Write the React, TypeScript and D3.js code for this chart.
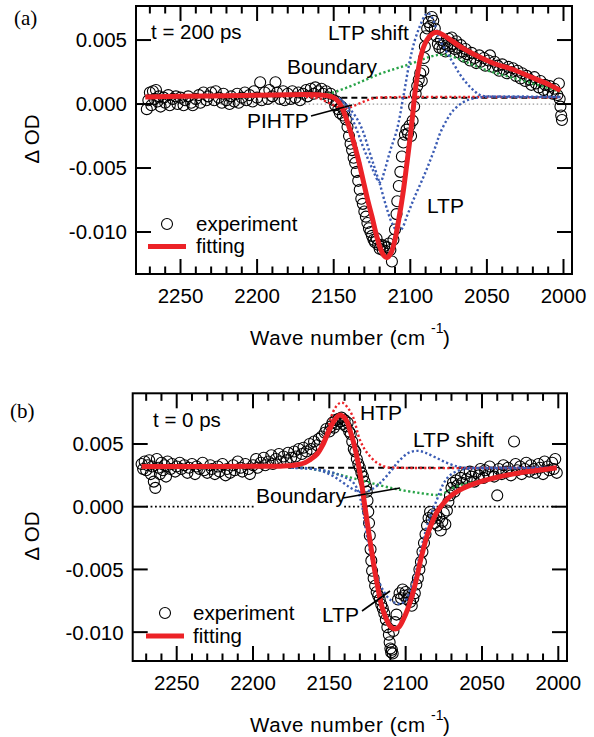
import React from "react";
import * as d3 from "d3";

type P = [number, number];

// ---------- tick values ----------
const xMajor = [2250, 2200, 2150, 2100, 2050, 2000];
const xMinor = [2270, 2260, 2240, 2230, 2220, 2210, 2190, 2180, 2170, 2160, 2140, 2130, 2120, 2110, 2090, 2080, 2070, 2060, 2040, 2030, 2020, 2010];
const yTicks = [5, 0, -5, -10]; // mOD
const yTickLabels = ["0.005", "0.000", "-0.005", "-0.010"];

// ---------- panel (a): t = 200 ps, values in mOD ----------
const expA: P[] = [
  [2272, -0.4], [2271, 0.3], [2270, 0.9], [2269, -0.1], [2268, 1.0], [2267, 0.4], [2266, 1.1], [2265, 0.2], [2264, 0.6], [2263, -0.2],
  [2261, 0.5], [2260, 0.1], [2258, 0.7], [2257, -0.1], [2255, 0.4], [2253, 0.6], [2252, 0.0], [2250, 0.5], [2248, -0.1], [2247, 0.3],
  [2245, 0.6], [2243, 0.1], [2242, -0.1], [2240, 0.4], [2238, 0.7], [2237, 0.1], [2235, 0.9], [2233, 0.3], [2232, 0.6], [2230, 0.9],
  [2228, 0.3], [2227, 1.0], [2225, 0.5], [2223, 0.1], [2222, 0.8], [2220, 0.3], [2218, 0.0], [2217, 0.6], [2215, 0.2], [2213, 0.8],
  [2212, 0.1], [2210, 0.5], [2208, 0.9], [2207, 0.3], [2205, 0.7], [2203, 0.2], [2202, 1.0], [2200, 0.5], [2198, 1.7], [2197, 0.3],
  [2195, 0.9], [2193, 0.4], [2192, 1.1], [2190, 0.6], [2188, 1.7], [2187, 0.9], [2185, 0.4], [2183, 1.0], [2182, 0.3], [2180, 0.8],
  [2178, 0.4], [2177, 1.0], [2175, 0.5], [2173, 0.9], [2172, 0.3], [2170, 0.8], [2168, 1.1], [2167, 0.6], [2165, 1.2], [2163, 0.8],
  [2162, 1.3], [2160, 1.0], [2158, 1.2], [2157, 0.8], [2155, 1.0], [2153, 0.5], [2152, 0.8], [2150, 0.3], [2149, -0.1], [2148, 0.2],
  [2147, -0.4], [2146, -0.7], [2145, -0.2], [2144, -0.9], [2143, -0.5], [2142, -1.2], [2141, -1.8], [2140, -2.5], [2139, -3.1], [2138, -3.6],
  [2137, -4.2], [2136, -4.6], [2135, -5.3], [2134, -6.0], [2133, -6.7], [2132, -7.4], [2131, -7.8], [2130, -8.4], [2129, -8.8], [2128, -9.3],
  [2127, -9.7], [2126, -10.0], [2125, -10.3], [2124, -10.6], [2123, -10.8], [2122, -10.5], [2121, -11.0], [2120, -11.3], [2119, -11.0], [2118, -11.4],
  [2117, -11.1], [2116, -11.5], [2115, -11.2], [2114, -10.9], [2113, -11.4], [2112, -12.3], [2111, -10.6], [2110, -9.8], [2109, -8.6], [2108.5, -7.6],
  [2107.5, -6.4], [2106.5, -5.3], [2105.5, -4.1], [2104.5, -3.0], [2103.5, -2.4], [2102.5, -2.0], [2101.5, -2.3], [2100.5, -1.7], [2099.5, -2.5], [2098.5, -1.3],
  [2097.5, -0.2], [2096.5, 0.8], [2095.5, 1.4], [2094.5, 1.9], [2093.5, 2.4], [2092.5, 1.8], [2091.5, 2.6], [2091, 3.6], [2090.5, 4.5], [2090, 5.3],
  [2089, 5.9], [2088, 6.4], [2087, 6.1], [2086, 6.8], [2085, 6.5], [2084, 5.9], [2083, 5.3], [2082, 4.7], [2081, 4.4], [2080, 5.0],
  [2079, 4.3], [2078, 4.7], [2077, 4.1], [2076, 4.6], [2075, 5.1], [2074, 4.5], [2073, 5.2], [2072, 4.7], [2071, 4.3], [2070, 4.9],
  [2069, 4.4], [2068, 4.0], [2067, 4.6], [2066, 4.1], [2065, 3.7], [2064, 4.3], [2063, 3.9], [2061, 3.4], [2060, 4.0], [2058, 3.6],
  [2057, 3.2], [2055, 3.8], [2054, 3.3], [2052, 3.6], [2051, 3.0], [2049, 3.4], [2048, 3.8], [2046, 2.9], [2045, 3.3], [2043, 3.0],
  [2042, 2.6], [2040, 3.1], [2039, 2.7], [2037, 2.4], [2036, 2.9], [2034, 2.5], [2033, 2.8], [2031, 2.2], [2030, 2.6], [2028, 2.0],
  [2027, 2.4], [2025, 1.8], [2024, 2.2], [2022, 1.9], [2021, 1.5], [2019, 2.1], [2018, 1.6], [2016, 1.3], [2015, 1.8], [2013, 1.1],
  [2012, 1.5], [2010, 1.0], [2009, 1.4], [2007, 0.8], [2006, 1.2], [2004, 0.7], [2003, 1.6], [2002.5, 0.4], [2002, -0.2], [2001.5, -0.9],
  [2001, -1.25],
];
const fitA: P[] = [
  [2273, 0.55], [2250, 0.6], [2220, 0.65], [2190, 0.7], [2170, 0.75], [2160, 0.72], [2154, 0.65], [2150, 0.5], [2147, 0.2], [2144, -0.45],
  [2140.5, -1.6], [2137.4, -2.8], [2134, -4.3], [2130.9, -5.9], [2128, -7.4], [2125, -8.8], [2122, -10.3], [2119.8, -11.2], [2117.5, -11.8], [2115.2, -12.0],
  [2112.5, -11.6], [2110, -10.6], [2107.5, -9.0], [2104.8, -7.0], [2102.5, -4.9], [2100.3, -2.8], [2098.5, -0.9], [2097, 0.86], [2095.3, 2.3], [2093.7, 3.4],
  [2091.5, 4.4], [2089.2, 5.0], [2086, 5.45], [2082.6, 5.6], [2078, 5.35], [2073, 4.95], [2067.6, 4.5], [2061, 4.05], [2054.5, 3.65], [2045, 3.15],
  [2033, 2.7], [2022, 2.15], [2011, 1.6], [2002, 1.05],
];
const ltpA: P[] = [
  [2150, 0.55], [2145, 0.3], [2140, -0.3], [2135, -1.1], [2131, -2.1], [2127, -3.6], [2123, -5.1], [2120, -6.2], [2116, -7.9], [2112, -9.3],
  [2109, -9.85], [2106, -9.8], [2102, -8.7], [2098, -7.5], [2094, -6.4], [2090, -5.3], [2087, -4.4], [2083.5, -3.3], [2080.6, -2.3], [2076, -1.2],
  [2072, -0.5], [2066, 0.1], [2060, 0.4], [2052, 0.55], [2002, 0.55],
];
const ltpShiftA: P[] = [
  [2155, 0.55], [2150, 0.5], [2145, 0.3], [2140, -0.6], [2135, -2.0], [2130, -3.6], [2125, -5.0], [2121, -6.0], [2119.5, -6.1], [2117, -5.3],
  [2113, -3.6], [2108.7, -2.0], [2104.5, 0.6], [2100.3, 3.4], [2097, 5.0], [2093.7, 6.1], [2090.5, 6.9], [2088.5, 7.1], [2086, 6.8], [2080.6, 5.0],
  [2076, 4.0], [2072, 3.2], [2067.5, 2.3], [2063, 1.6], [2058, 1.0], [2054.5, 0.7], [2045, 0.58], [2002, 0.55],
];
const boundaryA: P[] = [
  [2160, 0.7], [2152, 0.85], [2140, 1.35], [2130, 1.85], [2120, 2.35], [2110, 2.75], [2102, 3.05], [2094, 3.4], [2087, 3.7], [2081, 3.85],
  [2076, 3.8], [2070, 3.6], [2063, 3.25], [2055, 2.85], [2045, 2.45], [2033, 2.05], [2020, 1.6], [2010, 1.25], [2002, 0.95],
];
const pihtpA: P[] = [
  [2168, 0.55], [2160, 0.45], [2155, 0.2], [2150, -0.1], [2146, -0.3], [2141, -0.3], [2136, -0.1], [2130, 0.2], [2124, 0.45], [2118, 0.52],
  [2002, 0.52],
];
const baseA: P[] = [[2145, 0.5], [2002, 0.5]];
const zeroA: P[] = [[2276, 0], [1996, 0]];

// ---------- panel (b): t = 0 ps, values in mOD ----------
const expB: P[] = [
  [2273, 3.4], [2272, 3.0], [2271, 3.6], [2270, 2.9], [2269, 3.3], [2268, 3.7], [2267, 2.6], [2266, 3.2], [2265, 2.0], [2264, 1.5],
  [2263, 3.8], [2262, 3.1], [2261, 2.6], [2260, 3.5], [2259, 2.9], [2258, 3.3], [2257, 2.4], [2256, 3.6], [2254, 3.0], [2253, 3.4],
  [2251, 2.8], [2250, 3.2], [2248, 3.5], [2247, 3.0], [2245, 3.3], [2243, 2.7], [2242, 3.1], [2240, 3.4], [2238, 2.6], [2237, 3.2],
  [2235, 3.0], [2233, 3.5], [2232, 2.9], [2230, 2.7], [2228, 3.3], [2227, 3.0], [2225, 2.6], [2223, 3.2], [2222, 2.8], [2220, 3.4],
  [2218, 2.5], [2217, 3.0], [2215, 2.7], [2213, 3.3], [2212, 2.9], [2210, 3.6], [2208, 3.1], [2207, 2.8], [2205, 3.4], [2203, 3.0],
  [2202, 2.6], [2200, 3.3], [2198, 3.8], [2197, 3.1], [2195, 3.5], [2193, 3.9], [2192, 3.3], [2190, 3.6], [2188, 4.1], [2187, 3.4],
  [2185, 3.8], [2183, 4.2], [2182, 3.6], [2180, 4.0], [2178, 3.7], [2177, 4.3], [2175, 3.9], [2173, 4.4], [2172, 4.0], [2170, 4.6],
  [2168, 4.2], [2167, 4.7], [2165, 4.4], [2163, 5.0], [2162, 4.6], [2160, 5.2], [2158, 4.9], [2157, 5.4], [2155, 5.6], [2153, 5.9],
  [2152, 6.2], [2150, 6.0], [2149, 6.4], [2148, 6.7], [2147, 6.3], [2146, 6.9], [2145, 6.6], [2144, 7.0], [2143, 6.8], [2142, 7.1],
  [2141, 6.6], [2140, 6.9], [2139, 6.4], [2138, 6.7], [2137, 6.0], [2136, 5.8], [2135, 5.2], [2134, 4.6], [2133, 4.4], [2132, 3.8],
  [2131, 3.4], [2130, 3.1], [2129, 2.7], [2128, 2.4], [2127, 2.0], [2126, 1.6], [2125.5, 1.2], [2125, 0.5], [2124.5, -0.4], [2124, -1.3],
  [2123.5, -2.3], [2123, -3.4], [2122.5, -4.3], [2122, -5.1], [2121, -5.7], [2120, -6.3], [2119, -6.8], [2118, -7.1], [2117, -7.4], [2116, -7.8],
  [2115, -8.1], [2114, -8.5], [2113, -9.0], [2112, -9.6], [2111, -10.2], [2110.5, -10.8], [2110, -11.3], [2109.5, -11.6], [2109, -11.4], [2108.5, -11.7],
  [2108, -9.9], [2107, -9.2], [2106, -8.6], [2105, -7.4], [2104, -6.9], [2103, -7.3], [2102, -6.6], [2101, -7.1], [2100, -6.8], [2099, -7.4],
  [2098, -7.0], [2097, -7.6], [2096, -7.9], [2095, -7.3], [2094, -6.9], [2093, -6.2], [2092, -5.7], [2091, -5.0], [2090, -4.4], [2089, -3.6],
  [2088, -2.9], [2087, -2.2], [2086, -1.5], [2085, -0.9], [2084, -0.4], [2083, -1.0], [2082, -0.6], [2081, -1.3], [2080, -0.7], [2079, -1.5],
  [2078, -0.9], [2077, -1.9], [2076, -1.2], [2075, -0.5], [2074, -1.4], [2073, -0.3], [2072, 0.4], [2071, 0.9], [2070, 1.5], [2069, 1.9],
  [2068, 1.2], [2067, 2.1], [2066, 1.7], [2064, 2.3], [2063, 1.9], [2061, 2.6], [2060, 2.2], [2058, 2.8], [2057, 2.4], [2055, 2.0],
  [2054, 2.7], [2052, 2.5], [2051, 3.0], [2049, 2.3], [2048, 2.9], [2046, 2.6], [2045, 3.2], [2043, 2.7], [2042, 2.4], [2040, 0.9],
  [2039, 3.0], [2037, 2.6], [2036, 3.3], [2034, 2.8], [2033, 3.1], [2031, 2.5], [2029, 5.2], [2028, 3.4], [2027, 2.9], [2025, 3.2],
  [2024, 2.6], [2022, 3.0], [2021, 3.5], [2019, 2.8], [2018, 3.3], [2016, 3.0], [2015, 2.7], [2013, 3.4], [2012, 3.1], [2010, 2.6],
  [2009, 3.6], [2007, 3.2], [2006, 2.9], [2004, 3.5], [2003, 3.0], [2002, 3.8], [2001, 2.7],
];
const fitB: P[] = [
  [2273, 3.2], [2240, 3.2], [2200, 3.22], [2180, 3.25], [2171, 3.35], [2166, 3.5], [2162.6, 3.75], [2158, 4.2], [2154, 5.0], [2151.5, 5.7],
  [2148.5, 6.5], [2146, 7.0], [2143.5, 7.3], [2141, 7.2], [2138.5, 6.8], [2136.5, 6.1], [2134.3, 5.2], [2132, 4.0], [2130, 2.7], [2128.3, 1.4],
  [2126.7, 0.0], [2125, -1.4], [2123.4, -2.7], [2121.7, -4.0], [2120, -5.3], [2117.5, -6.9], [2115.5, -8.0], [2112.5, -9.0], [2110, -9.55], [2107, -9.75],
  [2104.5, -9.6], [2101.6, -9.0], [2098.5, -8.1], [2095.8, -7.1], [2093, -5.8], [2090.5, -4.4], [2088, -3.2], [2086, -2.3], [2082.5, -1.2], [2079.4, -0.4],
  [2075, 0.3], [2071, 0.8], [2065, 1.3], [2060, 1.6], [2051, 2.0], [2040, 2.35], [2030, 2.6], [2020, 2.8], [2010, 2.95], [2001, 3.1],
];
const htpB: P[] = [
  [2175, 3.2], [2165, 3.6], [2158, 4.4], [2152, 5.9], [2147.4, 7.6], [2144, 8.2], [2141.5, 8.3], [2138, 7.9], [2134.3, 7.1], [2129.9, 5.3],
  [2125.3, 4.3], [2118.8, 3.5], [2112.3, 3.15], [2105, 3.1], [2001, 3.1],
];
const ltpB: P[] = [
  [2175, 3.1], [2160, 3.0], [2150, 2.8], [2141, 2.4], [2135, 2.0], [2132, 1.5], [2130, 0.8], [2128, -0.3], [2125.3, -2.4], [2121.4, -4.6],
  [2118, -5.8], [2115.5, -6.5], [2110.3, -7.4], [2104, -7.75], [2100, -7.45], [2097.2, -6.7], [2094.5, -5.8], [2092.6, -4.8], [2088.6, -2.7], [2084, -0.8],
  [2079.4, 0.6], [2075.4, 1.8], [2071, 2.5], [2065, 2.9], [2058, 3.05], [2050, 3.1], [2001, 3.1],
];
const ltpShiftB: P[] = [
  [2175, 3.1], [2160, 3.0], [2150, 2.6], [2142, 2.0], [2136, 1.5], [2131, 1.2], [2127.5, 1.15], [2122, 1.4], [2116.6, 1.9], [2110, 2.8],
  [2104, 3.7], [2098, 4.3], [2092, 4.45], [2087, 4.3], [2080, 3.9], [2073, 3.5], [2066, 3.2], [2060, 3.1], [2001, 3.1],
];
const boundaryB: P[] = [
  [2175, 3.15], [2167, 3.1], [2150, 2.75], [2140, 2.45], [2127.5, 2.05], [2116.6, 1.7], [2108, 1.45], [2101.6, 1.3], [2094, 1.15], [2088.6, 1.05],
  [2082, 0.95], [2077.5, 0.95], [2073, 1.2], [2069, 1.5], [2062, 1.8], [2051, 2.05], [2040, 2.35], [2030, 2.6], [2020, 2.8], [2010, 2.95],
  [2001, 3.05],
];
const baseB: P[] = [[2177, 3.1], [2001, 3.1]];
const zeroB: P[] = [[2270, 0], [2001, 0]];

// ---------- styling ----------
const RED = "#ec2227";
const BLUE = "#3b5cb4";
const GREEN = "#27a347";
const FONT = "'Liberation Sans', Arial, Helvetica, sans-serif";

type Layout = {
  left: number; right: number; top: number; bottom: number;
  w0: number; w1: number; v0: number; v1: number;
};
const layoutA: Layout = { left: 136, right: 572, top: 6, bottom: 274, w0: 2279.05, w1: 1994.45, v0: -13.28, v1: 7.66 };
const layoutB: Layout = { left: 132.7, right: 567, top: 393.3, bottom: 661, w0: 2278.83, w1: 1994.3, v0: -12.3, v1: 9.04 };

function Axes({ L, x, y, titleY }: { L: Layout; x: d3.ScaleLinear<number, number>; y: d3.ScaleLinear<number, number>; titleY: number }) {
  const sw = 2;
  return (
    <g>
      <rect x={L.left} y={L.top} width={L.right - L.left} height={L.bottom - L.top} fill="none" stroke="#000" strokeWidth={sw} />
      {xMajor.map((t) => (
        <g key={"M" + t}>
          <line x1={x(t)} x2={x(t)} y1={L.bottom} y2={L.bottom - 15} stroke="#000" strokeWidth={sw} />
          <line x1={x(t)} x2={x(t)} y1={L.top} y2={L.top + 15} stroke="#000" strokeWidth={sw} />
          <text x={x(t)} y={L.bottom + 29} textAnchor="middle" fontSize={20.5}>{t}</text>
        </g>
      ))}
      {xMinor.map((t) => (
        <g key={"m" + t}>
          <line x1={x(t)} x2={x(t)} y1={L.bottom} y2={L.bottom - 7.5} stroke="#000" strokeWidth={sw} />
          <line x1={x(t)} x2={x(t)} y1={L.top} y2={L.top + 7.5} stroke="#000" strokeWidth={sw} />
        </g>
      ))}
      {yTicks.map((t, i) => (
        <g key={"y" + t}>
          <line x1={L.left} x2={L.left + 15} y1={y(t)} y2={y(t)} stroke="#000" strokeWidth={sw} />
          <line x1={L.right} x2={L.right - 15} y1={y(t)} y2={y(t)} stroke="#000" strokeWidth={sw} />
          <text x={L.left - 9} y={y(t)} dy="0.36em" textAnchor="end" fontSize={20.5}>{yTickLabels[i]}</text>
        </g>
      ))}
      <text x={250} y={L.bottom + 71} fontSize={20.5} textLength={175} lengthAdjust="spacing">Wave number (cm</text>
      <text x={431} y={L.bottom + 59} fontSize={14}>-1</text>
      <text x={443} y={L.bottom + 71} fontSize={20.5}>)</text>
      <text transform={`translate(39,${titleY}) rotate(-90)`} textAnchor="middle" fontSize={20.5}>Δ OD</text>
    </g>
  );
}

function makeScales(L: Layout) {
  const x = d3.scaleLinear().domain([L.w0, L.w1]).range([L.left, L.right]);
  const y = d3.scaleLinear().domain([L.v0, L.v1]).range([L.bottom, L.top]);
  const line = d3.line<P>().x((d) => x(d[0])).y((d) => y(d[1])).curve(d3.curveCatmullRom.alpha(0.5));
  const straight = d3.line<P>().x((d) => x(d[0])).y((d) => y(d[1]));
  return { x, y, line, straight };
}

const dot = { fill: "none", strokeWidth: 2.4, strokeDasharray: "2.2 2.4" } as const;

export default function App() {
  const A = makeScales(layoutA);
  const B = makeScales(layoutB);
  return (
    <svg width={594} height={737} style={{ position: "absolute", left: 0, top: 0, background: "#fff" }} fontFamily={FONT}>
      <rect x={0} y={0} width={594} height={737} fill="#fff" />
      {/* ---------------- panel (a) ---------------- */}
      <g>
        <path d={A.straight(zeroA) || ""} stroke="#9a9a9a" strokeWidth={1.2} strokeDasharray="1.5 2.5" fill="none" />
        {expA.map((d, i) => (
          <circle key={i} cx={A.x(d[0])} cy={A.y(d[1])} r={5.5} fill="none" stroke="#000" strokeWidth={1.1} />
        ))}
        <path d={A.straight(baseA) || ""} stroke="#000" strokeWidth={2} strokeDasharray="6 4" fill="none" />
        <path d={A.line(pihtpA) || ""} stroke={RED} {...dot} />
        <path d={A.line(boundaryA) || ""} stroke={GREEN} {...dot} />
        <path d={A.line(ltpA) || ""} stroke={BLUE} {...dot} />
        <path d={A.line(ltpShiftA) || ""} stroke={BLUE} {...dot} />
        <path d={A.line(fitA) || ""} stroke={RED} strokeWidth={5} fill="none" strokeLinejoin="round" />
        <Axes L={layoutA} x={A.x} y={A.y} titleY={139} />
        <text x={14} y={25} fontSize={21} fontFamily="'Liberation Serif', 'Times New Roman', serif">(a)</text>
        <text x={151} y={39} fontSize={20.5}>t = 200 ps</text>
        <text x={328} y={40} fontSize={21}>LTP shift</text>
        <text x={287} y={74} fontSize={21}>Boundary</text>
        <text x={247} y={128} fontSize={21}>PIHTP</text>
        <line x1={311} y1={116} x2={352} y2={105} stroke="#000" strokeWidth={1.6} />
        <text x={427} y={213} fontSize={21}>LTP</text>
        <circle cx={167} cy={224} r={5.5} fill="none" stroke="#000" strokeWidth={1.1} />
        <text x={196} y={231} fontSize={20.5}>experiment</text>
        <line x1={148} x2={186} y1={246.5} y2={246.5} stroke={RED} strokeWidth={5} />
        <text x={196} y={253} fontSize={20.5}>fitting</text>
      </g>
      {/* ---------------- panel (b) ---------------- */}
      <g>
        <path d={B.straight(zeroB) || ""} stroke="#000" strokeWidth={1.7} strokeDasharray="1.8 2.6" fill="none" />
        {expB.map((d, i) => (
          <circle key={i} cx={B.x(d[0])} cy={B.y(d[1])} r={5.5} fill="none" stroke="#000" strokeWidth={1.1} />
        ))}
        <path d={B.straight(baseB) || ""} stroke="#000" strokeWidth={2} strokeDasharray="6 4" fill="none" />
        <path d={B.line(boundaryB) || ""} stroke={GREEN} {...dot} />
        <path d={B.line(htpB) || ""} stroke={RED} {...dot} />
        <path d={B.line(ltpB) || ""} stroke={BLUE} {...dot} />
        <path d={B.line(ltpShiftB) || ""} stroke={BLUE} {...dot} />
        <path d={B.line(fitB) || ""} stroke={RED} strokeWidth={5} fill="none" strokeLinejoin="round" />
        <Axes L={layoutB} x={B.x} y={B.y} titleY={536} />
        <text x={10} y={418} fontSize={21} fontFamily="'Liberation Serif', 'Times New Roman', serif">(b)</text>
        <text x={153} y={427} fontSize={20.5}>t = 0 ps</text>
        <text x={360} y={420} fontSize={21}>HTP</text>
        <text x={413} y={447} fontSize={21}>LTP shift</text>
        <rect x={254} y={487} width={89} height={22} fill="#fff" />
        <text x={256} y={503} fontSize={21}>Boundary</text>
        <line x1={343} y1={498} x2={400} y2={488} stroke="#000" strokeWidth={1.6} />
        <text x={322} y={622} fontSize={21}>LTP</text>
        <line x1={362} y1={611} x2={390} y2={591} stroke="#000" strokeWidth={1.6} />
        <circle cx={165} cy={613} r={5.5} fill="none" stroke="#000" strokeWidth={1.1} />
        <text x={193} y={620} fontSize={20.5}>experiment</text>
        <line x1={146} x2={184} y1={636} y2={636} stroke={RED} strokeWidth={5} />
        <text x={193} y={643} fontSize={20.5}>fitting</text>
      </g>
    </svg>
  );
}
